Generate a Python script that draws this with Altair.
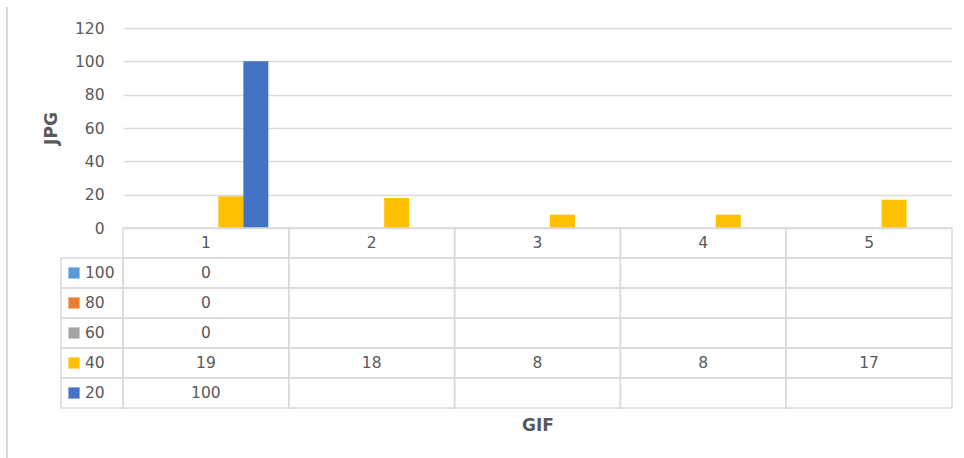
import altair as alt
import pandas as pd

# ---- data ----
gif_labels = ["1", "2", "3", "4", "5"]
series_names = ["100", "80", "60", "40", "20"]
series_colors = ["#5B9BD5", "#ED7D31", "#A5A5A5", "#FFC000", "#4472C4"]
vals_100 = [0, None, None, None, None]
vals_80 = [0, None, None, None, None]
vals_60 = [0, None, None, None, None]
vals_40 = [19, 18, 8, 8, 17]
vals_20 = [100, None, None, None, None]
y_ticks = [0, 20, 40, 60, 80, 100, 120]

series_vals = {"100": vals_100, "80": vals_80, "60": vals_60, "40": vals_40, "20": vals_20}
table_rows = ["header"] + series_names

bar_records, table_records = [], []
for g in gif_labels:
    table_records.append({"row": "header", "GIF": g, "text": g})
for s in series_names:
    for g, v in zip(gif_labels, series_vals[s]):
        table_records.append({"row": s, "GIF": g, "text": "" if v is None else str(v)})
        if v is not None:
            bar_records.append({"series": s, "GIF": g, "JPG": v})
bars_df = pd.DataFrame(bar_records)
table_df = pd.DataFrame(table_records)
legend_df = pd.DataFrame({"row": series_names, "series": series_names})

FONT = "DejaVu Sans"
TXT = "#595959"
LINE = "#d9d9d9"

x_enc = alt.X("GIF:N", sort=gif_labels,
              scale=alt.Scale(domain=gif_labels, paddingInner=0, paddingOuter=0),
              axis=alt.Axis(labels=False, ticks=False, domain=False, grid=False, title="GIF",
                            titleFontSize=17, titleFontWeight="bold", titleColor=TXT,
                            titleFont=FONT, titlePadding=9))
color_enc = alt.Color("series:N", scale=alt.Scale(domain=series_names, range=series_colors),
                      legend=None)

bars = alt.Chart(bars_df).mark_bar().encode(
    x=x_enc,
    xOffset=alt.XOffset("series:N", sort=series_names,
                        scale=alt.Scale(domain=series_names, paddingInner=0, paddingOuter=0.82)),
    y=alt.Y("JPG:Q", scale=alt.Scale(domain=[0, 120], range=[200, 0], nice=False),
            axis=alt.Axis(values=y_ticks, grid=True, gridColor=LINE, gridWidth=1.5,
                          domain=False, ticks=False, labelFontSize=15.5, labelColor=TXT,
                          labelFont=FONT, labelPadding=19, title="JPG", titleFontSize=17,
                          titleFontWeight="bold", titleColor=TXT, titleFont=FONT,
                          titlePadding=14)),
    color=color_enc,
)

y_tab = alt.Y("row:N", sort=table_rows,
              scale=alt.Scale(domain=table_rows, range=[200, 380], paddingInner=0, paddingOuter=0),
              axis=None)

cells = alt.Chart(table_df).mark_rect(fill="white", fillOpacity=0, stroke=LINE, strokeWidth=1.5).encode(
    x=x_enc,
    y=y_tab,
)
cell_text = alt.Chart(table_df).mark_text(font=FONT, fontSize=15.5, color=TXT, baseline="middle").encode(
    x=x_enc,
    y=y_tab,
    text="text:N",
)
legend_cells = alt.Chart(legend_df).mark_rect(fill="white", fillOpacity=0, stroke=LINE, strokeWidth=1.5).encode(
    x=alt.value(-62), x2=alt.value(0), y=y_tab,
)
legend_keys = alt.Chart(legend_df).mark_square(size=125, opacity=1).encode(
    x=alt.value(-49), y=y_tab, color=color_enc,
)
legend_text = alt.Chart(legend_df).mark_text(font=FONT, fontSize=15.5, color=TXT, align="left",
                                             baseline="middle").encode(
    x=alt.value(-38), y=y_tab, text="series:N",
)
frame_line = alt.Chart(legend_df).mark_rule(color=LINE, strokeWidth=1.5).encode(
    x=alt.value(-116), y=alt.value(-21), y2=alt.value(430),
)

table = alt.layer(cells, cell_text, legend_cells, legend_keys, legend_text)

chart = alt.layer(frame_line, bars, table).resolve_scale(y="independent").properties(
    width=829, height=380,
    background="white",
    autosize=alt.AutoSizeParams(type="none"),
    padding={"left": 123, "top": 28, "right": 12, "bottom": 50},
).configure_view(strokeWidth=0, strokeOpacity=0).configure_axis(
    domain=False, ticks=False
).configure_axisX(grid=False)

chart.save("out.html", embed_options={"renderer": "svg", "actions": False})
